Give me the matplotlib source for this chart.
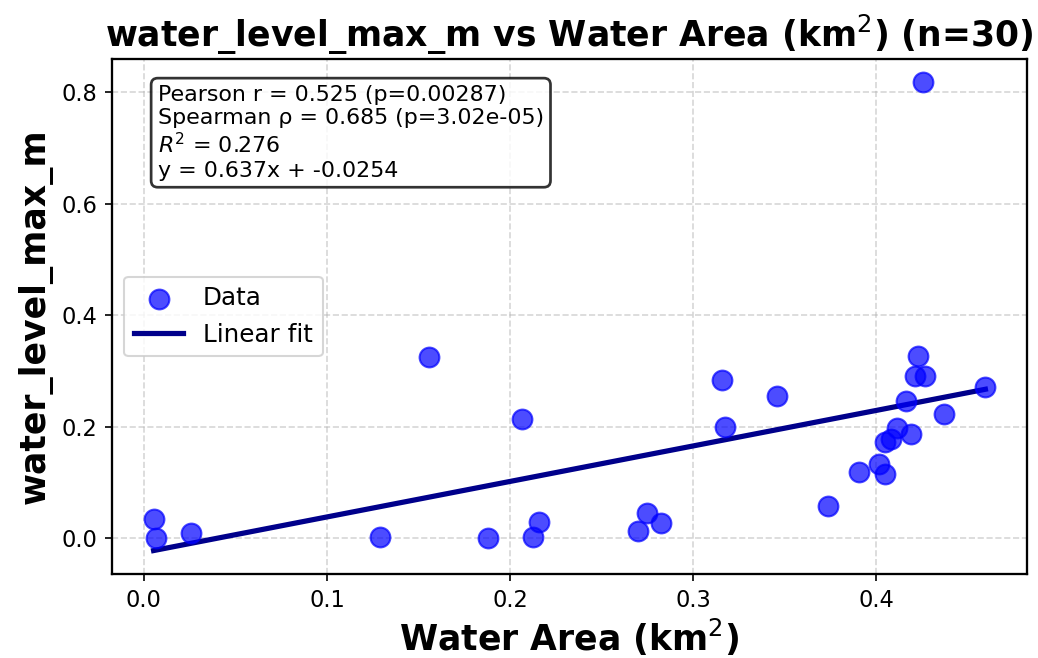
import matplotlib
matplotlib.use("Agg")
import matplotlib.pyplot as plt
import numpy as np

# values
water_area = [0.0053, 0.0064, 0.026, 0.129, 0.188, 0.2123, 0.2157, 0.270, 0.2749, 0.2824,
              0.3736, 0.1559, 0.2063, 0.3157, 0.3459, 0.3175, 0.3905, 0.4014, 0.4047, 0.4051,
              0.4084, 0.4113, 0.4193, 0.4164, 0.4213, 0.4268, 0.4230, 0.4372, 0.4597, 0.4258]
water_level = [0.0346, 0.0, 0.009, 0.002, 0.001, 0.002, 0.029, 0.0137, 0.0449, 0.0276,
               0.0584, 0.325, 0.2133, 0.2848, 0.2549, 0.1999, 0.1183, 0.1331, 0.1146, 0.172,
               0.1774, 0.1971, 0.1868, 0.2466, 0.2907, 0.2907, 0.327, 0.2239, 0.2716, 0.818]

slope = 0.637
intercept = -0.0254
stats_lines = ["Pearson r = 0.525 (p=0.00287)",
               "Spearman \u03c1 = 0.685 (p=3.02e-05)",
               "$R^2$ = 0.276",
               "y = 0.637x + -0.0254"]

fig = plt.figure(figsize=(1038 / 150, 658 / 150), dpi=150)
ax = fig.add_axes([0.1079, 0.1277, 0.8815, 0.7826])

x = np.array(water_area)
y = np.array(water_level)
ax.scatter(x, y, color='blue', alpha=0.7, s=90, label='Data', zorder=3)

xs = np.linspace(x.min(), x.max(), 100)
ax.plot(xs, slope * xs + intercept, color='darkblue', linewidth=2.5, label='Linear fit', zorder=2)

ax.text(0.05, 0.95, "\n".join(stats_lines), transform=ax.transAxes, va='top', ha='left',
        fontsize=10.6, bbox=dict(boxstyle='round', facecolor='white', edgecolor='black',
                                 linewidth=1.3, alpha=0.8))

ax.set_xlabel('Water Area (km$^2$)', fontsize=16.6, fontweight='bold', labelpad=2.5)
ax.set_ylabel('water_level_max_m', fontsize=16.6, fontweight='bold')
ax.set_title('water_level_max_m vs Water Area (km$^2$) (n=30)', fontsize=16.6, fontweight='bold')
ax.tick_params(labelsize=10.8)
for sp in ax.spines.values():
    sp.set_linewidth(1.1)
ax.grid(True, linestyle='--', alpha=0.5)
ax.legend(loc='center left', fontsize=11.8)

fig.savefig('out.png', dpi=150)
